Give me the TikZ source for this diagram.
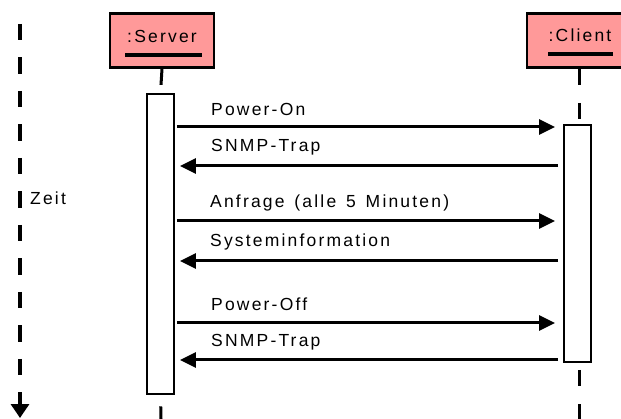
\documentclass[tikz,border=0pt]{standalone}
\usepackage{fontspec}
\setmainfont{Liberation Sans}[LetterSpace=12.5, WordSpace=1.4]
\usetikzlibrary{arrows.meta}
\definecolor{headfill}{RGB}{255,153,153}
\tikzset{
  x=1pt, y=-1pt,
  every node/.style={font=\fontsize{17.5}{20}\selectfont, inner sep=0pt},
  head/.style={draw, line width=2.8pt, fill=headfill, minimum width=104pt, minimum height=54pt},
  act/.style={draw, line width=2.8pt, fill=white, minimum width=27pt},
  uline/.style={line width=3.2pt},
  life/.style={line width=3pt, dash pattern=on 16pt off 18pt},
  msgr/.style={line width=3pt, -{Triangle[length=16pt,width=15pt]}, shorten <=1.5pt, shorten >=7.5pt},
  msgl/.style={line width=3pt, -{Triangle[length=16pt,width=15pt]}, shorten <=4.5pt, shorten >=4.5pt},
  lbl/.style={anchor=base west},
  timeax/.style={line width=3.3pt, dash pattern=on 16.5pt off 17pt, -{Triangle[length=14pt,width=18pt]}}
}
\begin{document}
\begin{tikzpicture}
\useasboundingbox (0,0) rectangle (621,419);
\begin{scope}
\clip (0,0) rectangle (621,419);

% time axis
\coordinate (t0) at (20,24);
\coordinate (t1) at (20,418);
\draw[timeax] (t0) -- (t1);
\node[lbl] (zeit) at (30,205) {Zeit};

% object headers
\node[head] (srv) at (162,40.5) {};
\node[anchor=base] (srvlbl) at (162,43) {:Server};
\draw[uline] (125,55) -- (202,55);

% the client box runs on past the right edge: its right side is not drawn
\fill[headfill] (527,13.5) rectangle (640,67.5);
\draw[line width=2.8pt] (640,13.5) -- (527,13.5) -- (527,67.5) -- (640,67.5);
\node[anchor=base] (clilbl) at (580,42) {:Client};
\draw[uline] (548,54) -- (613,54);

% activation bars
\node[act, minimum height=300pt] (sact) at (160.5,244) {};
\node[act, minimum height=237pt] (cact) at (577.5,243.5) {};

% lifelines
\draw[life] (srv.south) -- (sact.north);
\coordinate (sbot) at (161,419);
\draw[life, dash phase=23pt] (sact.south) -- (sbot);
\coordinate (ctop) at (579,125);
\coordinate (chead) at (579,68.9);
\draw[life] (chead) -- (ctop);
\coordinate (cbot0) at (579,362);
\coordinate (cbot) at (579,419);
\draw[life, dash phase=26pt] (cbot0) -- (cbot);

% messages
\coordinate (m1) at (0,127);
\coordinate (m2) at (0,166);
\coordinate (m3) at (0,221);
\coordinate (m4) at (0,261);
\coordinate (m5) at (0,323);
\coordinate (m6) at (0,360);

\draw[msgr] (sact.east |- m1) -- (cact.west |- m1);
\node[lbl] (l1) at (211,116) {Power-On};
\draw[msgl] (cact.west |- m2) -- (sact.east |- m2);
\node[lbl] (l2) at (211,152) {SNMP-Trap};
\draw[msgr] (sact.east |- m3) -- (cact.west |- m3);
\node[lbl] (l3) at (210,208) {Anfrage (alle 5 Minuten)};
\draw[msgl] (cact.west |- m4) -- (sact.east |- m4);
\node[lbl] (l4) at (210,247) {Systeminformation};
\draw[msgr] (sact.east |- m5) -- (cact.west |- m5);
\node[lbl] (l5) at (211,311) {Power-Off};
\draw[msgl] (cact.west |- m6) -- (sact.east |- m6);
\node[lbl] (l6) at (211,347) {SNMP-Trap};
\end{scope}
\end{tikzpicture}
\end{document}
